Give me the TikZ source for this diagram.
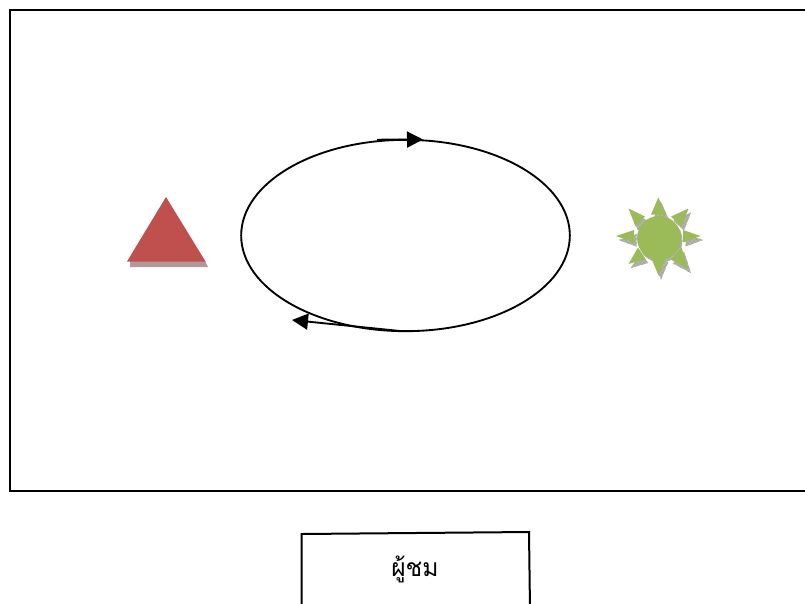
\documentclass[tikz,border=0pt]{standalone}
\usepackage{fontspec}
\newfontfamily\thaifont[Script=Thai]{Loma}
\usetikzlibrary{arrows.meta,patterns,shapes.geometric}
\definecolor{tri}{HTML}{C0504D}
\definecolor{sun}{HTML}{9BBB59}
\definecolor{sunshade}{HTML}{B4BAAA}
\definecolor{trishade}{HTML}{B0999A}
\tikzset{
  outline/.style={draw=black,line width=1.5pt},
  conn/.style={draw=black,line width=1.4pt,-{Triangle[length=12pt,width=12pt]}},
  sunshadow/.style={fill=sunshade},
  sunhatch/.style={pattern=crosshatch,pattern color=black!35},
  trishadow/.style={fill=trishade,draw=none},
}
\newcommand{\sunrays}[1]{%
  \fill[#1] (658.3,197.5) -- (651,214.5) -- (666,214.5) -- cycle;
  \fill[#1] (688.5,208.5) -- (671,216.5) -- (681.5,226.5) -- cycle;
  \fill[#1] (700.5,236) -- (683,230) -- (683,242.5) -- cycle;
  \fill[#1] (688.5,269) -- (681.5,247.5) -- (670.5,259.5) -- cycle;
  \fill[#1] (658.5,275.5) -- (651,257.5) -- (666,257.5) -- cycle;
  \fill[#1] (628.5,264) -- (638,247.5) -- (645.5,259) -- cycle;
  \fill[#1] (616,236) -- (634,230) -- (634,242.5) -- cycle;
  \fill[#1] (628.5,208.5) -- (635.5,226.5) -- (645,216.5) -- cycle;
}
\begin{document}
\begin{tikzpicture}[x=0.75pt,y=-0.75pt]
\useasboundingbox (0,0) rectangle (805,603);
\begin{scope}
\clip (0,0) rectangle (805,603);
\draw[outline] (9.5,9.5) rectangle (830,491);
% triangle
\fill[trishadow] (130,261) -- (205,261) -- (208,267) -- (130,267) -- cycle;
\fill[tri] (166,197) -- (205.5,261.5) -- (127,261.5) -- cycle;
% sun
\begin{scope}[shift={(2.5,4)}]
\sunrays{sunshadow}
\sunrays{sunhatch}
\end{scope}
\fill[sunshade] (660.5,240.5) circle (22);
\fill[sunhatch] (660.5,240.5) circle (22);
\sunrays{sun}
\fill[sun] (659,238) circle (22);
% cycle
\node[draw=black,line width=1.4pt,ellipse,minimum width=246.5pt,minimum height=143.5pt,inner sep=0pt] (orbit) at (405.5,235.5) {};
\coordinate (atop) at (377,139.7);
\coordinate (atip) at (423,139.5);
\coordinate (bstart) at (400,331);
\coordinate (btip) at (292,320);
\draw[conn] (atop) -- (atip);
\draw[conn] (bstart) -- (btip);
% audience box
\draw[outline] (301.5,610) -- (301.5,534) -- (529,532) -- (530,610);
\node[inner sep=0pt] (viewer) at (415,569) {\thaifont\fontsize{18.5pt}{22pt}\selectfont ผู้ชม};
\end{scope}
\end{tikzpicture}
\end{document}
